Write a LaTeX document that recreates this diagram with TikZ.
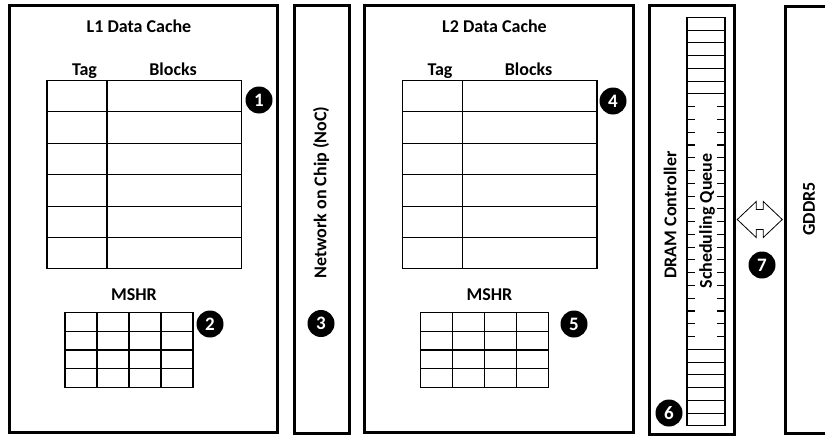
\documentclass[tikz,border=0pt]{standalone}
\usepackage{fontspec}
\setmainfont{Carlito}
\usetikzlibrary{calc}

\begin{document}
\begin{tikzpicture}[
    x=1pt, y=-1pt,
    unit/.style={draw, line width=3pt, inner sep=0pt},
    cell/.style={draw, line width=1.1pt},
    slots/.style={draw, line width=1.1pt, inner sep=0pt, outer sep=0pt},
    lbl/.style={font=\fontsize{18}{20}\selectfont\bfseries, inner sep=0pt},
    badge/.style={circle, fill=black, text=white, inner sep=0pt, minimum size=27pt, font=\fontsize{19}{19}\selectfont\bfseries}
  ]
  \clip (0,0) rectangle (825,439);
  \fill[white] (0,0) rectangle (825,439);

  % L1 and L2 have the same layout
  \foreach \lvl/\dx in {1/0, 2/355.5}{
    \begin{scope}[xshift=\dx]
      \node[unit, minimum width=268.5, minimum height=427.5] (l\lvl) at (143.25,218.75) {};
      \node[lbl, anchor=base] (title\lvl) at (139,32) {L\lvl{} Data Cache};
      \node[lbl, anchor=base] (tag\lvl) at (84.5,75) {Tag};
      \node[lbl, anchor=base] (blocks\lvl) at (173,75) {Blocks};
      \foreach \r in {0,...,5}{
        \draw[cell] (47,80.5+31.4*\r) rectangle ++(60,31.4);
        \draw[cell] (107,80.5+31.4*\r) rectangle ++(134.5,31.4);
      }
      \node[lbl, anchor=base] (mshr\lvl) at (134,300) {MSHR};
      \foreach \r in {0,...,3}
        \foreach \c in {0,...,3}
          \draw[cell] (65+32*\c,312.5+18.75*\r) rectangle ++(32,18.75);
    \end{scope}
  }

  % interconnect
  \node[unit, minimum width=55, minimum height=428] (noc) at (321.5,219) {};
  \node[lbl, rotate=90] (noclbl) at (321,192.5) {Network on Chip (NoC)};

  % memory controller with its queue
  \node[unit, minimum width=85.5, minimum height=429] (dram) at (691.75,219.5) {};
  \node[lbl, rotate=90] (ctrl) at (670,215) {DRAM Controller};
  \node[slots, minimum width=38, minimum height=408.6] (queue) at (706,221.6) {};
  \foreach \i in {1,...,6}
    \draw[cell] ($(queue.north west)+(0,12.77*\i)$) -- ++(38,0);
  \foreach \i in {26,...,31}
    \draw[cell] ($(queue.north west)+(0,12.77*\i)$) -- ++(38,0);
  \foreach \i in {7,...,25}{
    \draw[cell] ($(queue.north west)+(0,12.77*\i)$) -- ++(8,0);
    \draw[cell] ($(queue.north east)+(0,12.77*\i)$) -- ++(-8,0);
  }
  \node[lbl, rotate=90] (sched) at (707,221) {Scheduling Queue};

  % off-chip memory
  \node[unit, minimum width=70, minimum height=427] (gddr) at (820,219.5) {};
  \node[lbl, rotate=90] (gddrlbl) at (809,209) {GDDR5};

  % hollow two-way arrow
  \coordinate (link) at ($(dram.east)!0.5!(gddr.west)$);
  \draw[line width=0.8pt, fill=white] ($(link)+(-22.5,0)$) -- ++(19,-18) -- ++(0,8) -- ++(7,0) -- ++(0,-8)
    -- ++(19,18) -- ++(-19,18) -- ++(0,-8) -- ++(-7,0) -- ++(0,8) -- cycle;

  \node[badge] (n1) at (259,100) {1};
  \node[badge] (n2) at (210,324) {2};
  \node[badge] (n3) at (321,323.5) {3};
  \node[badge] (n4) at (613,101) {4};
  \node[badge] (n5) at (574,324) {5};
  \node[badge] (n6) at (669,413) {6};
  \node[badge] (n7) at (762,265) {7};
\end{tikzpicture}
\end{document}
